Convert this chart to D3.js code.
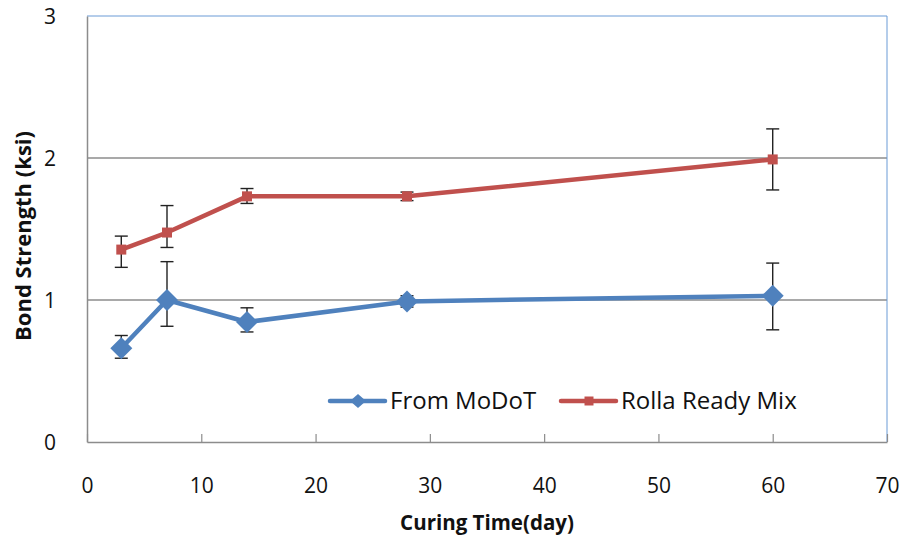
<!DOCTYPE html>
<html>
<head>
<meta charset="utf-8">
<script src="https://cdn.jsdelivr.net/npm/d3@7"></script>
<style>
body{margin:0;background:#fff;}
text{font-family:"Open Sans","Noto Sans",sans-serif;}
</style>
</head>
<body>
<svg></svg>
<script>
var width=915;
var height=541;
var margin={left:87,top:16,right:28,bottom:99};

// curing time (day)
var days=[3,7,14,28,60];
// From MoDoT
var modot=[0.66,1.0,0.845,0.99,1.03];
var modotHi=[0.75,1.27,0.945,1.03,1.26];
var modotLo=[0.59,0.815,0.775,0.95,0.79];
// Rolla Ready Mix
var rolla=[1.355,1.475,1.73,1.73,1.99];
var rollaHi=[1.45,1.665,1.785,1.76,2.205];
var rollaLo=[1.23,1.37,1.68,1.70,1.775];

var xTicks=[0,10,20,30,40,50,60,70];
var yTicks=[0,1,2,3];

var svg=d3.select("svg")
	.attr("width",width)
	.attr("height",height)

var scalex=d3.scaleLinear()
	.domain([0,70])
	.range([margin.left,width-margin.right])

var scaley=d3.scaleLinear()
	.domain([0,3])
	.range([height-margin.bottom,margin.top])

// gridlines
svg.append("g")
	.selectAll("line")
	.data(yTicks.filter(d=>d>0&&d<3))
	.enter()
	.append("line")
	.attr("x1",scalex(0))
	.attr("x2",scalex(70))
	.attr("y1",d=>scaley(d))
	.attr("y2",d=>scaley(d))
	.attr("stroke","#8c8c8c")
	.attr("stroke-width",1.3)

// top and right border
svg.append("path")
	.attr("d","M"+scalex(0)+","+scaley(3)+"H"+scalex(70)+"V"+scaley(0))
	.attr("fill","none")
	.attr("stroke","#6a9bd6")
	.attr("stroke-width",1)

var xaxis=d3.axisBottom(scalex)
	.tickValues(xTicks)
	.tickSizeInner(-8)
	.tickSizeOuter(0)

var yaxis=d3.axisLeft(scaley)
	.tickValues(yTicks)
	.tickFormat(d3.format("d"))
	.tickSize(0)
	.tickPadding(31)

var gx=svg.append("g")
	.attr("transform","translate(0,"+scaley(0)+")")
	.call(xaxis);
gx.select(".domain").attr("stroke","#8c8c8c").attr("stroke-width",1.5)
gx.selectAll(".tick line").attr("stroke","#8c8c8c").attr("stroke-width",1.2)
gx.selectAll(".tick text")
	.attr("y",44)
	.attr("dy","0.35em")
	.attr("font-size",21)
	.attr("fill","#111")
	.style("font-family","'Open Sans',sans-serif")

var gy=svg.append("g")
	.attr("transform","translate("+scalex(0)+",0)")
	.call(yaxis);
gy.select(".domain").attr("stroke","#8c8c8c").attr("stroke-width",1.5)
gy.selectAll(".tick text")
	.attr("font-size",21)
	.attr("fill","#111")
	.attr("dy","0.35em")
	.style("font-family","'Open Sans',sans-serif")

// axis titles
svg.append("text")
	.attr("x",(scalex(0)+scalex(70))/2)
	.attr("y",530)
	.style("text-anchor","middle")
	.attr("font-size",20.5)
	.attr("font-weight","bold")
	.attr("fill","#111")
	.text("Curing Time(day)")

svg.append("text")
	.attr("transform","translate(31,236) rotate(-90)")
	.style("text-anchor","middle")
	.attr("font-size",22)
	.attr("font-weight","bold")
	.attr("fill","#111")
	.text("Bond Strength (ksi)")

function drawseries(vals,hi,lo,color,marker)
{
	var g=svg.append("g");
	// error bars
	var eb=g.selectAll(".eb")
		.data(days)
		.enter()
		.append("g")
	eb.append("line")
		.attr("x1",d=>scalex(d)).attr("x2",d=>scalex(d))
		.attr("y1",(d,i)=>scaley(hi[i])).attr("y2",(d,i)=>scaley(lo[i]))
	eb.append("line")
		.attr("x1",d=>scalex(d)-6.5).attr("x2",d=>scalex(d)+6.5)
		.attr("y1",(d,i)=>scaley(hi[i])).attr("y2",(d,i)=>scaley(hi[i]))
	eb.append("line")
		.attr("x1",d=>scalex(d)-6.5).attr("x2",d=>scalex(d)+6.5)
		.attr("y1",(d,i)=>scaley(lo[i])).attr("y2",(d,i)=>scaley(lo[i]))
	eb.selectAll("line").attr("stroke","#222").attr("stroke-width",1.4)

	var line=d3.line()
		.x((d,i)=>scalex(days[i]))
		.y(d=>scaley(d))
	g.append("path")
		.datum(vals)
		.attr("d",line)
		.attr("fill","none")
		.attr("stroke",color)
		.attr("stroke-width",4.5)
		.attr("stroke-linejoin","round")

	g.selectAll(".mk")
		.data(vals)
		.enter()
		.append("path")
		.attr("transform",(d,i)=>"translate("+scalex(days[i])+","+scaley(d)+")")
		.attr("d",marker)
		.attr("fill",color)
}

var diamond="M0,-11L11,0L0,11L-11,0Z";
var square="M-5,-5H5V5H-5Z";

drawseries(rolla,rollaHi,rollaLo,"#c0504d",square);
drawseries(modot,modotHi,modotLo,"#4f81bd",diamond);

// legend
var legend=[
	{name:"From MoDoT",color:"#4f81bd",marker:"M0,-7L8,0L0,7L-8,0Z",x:330},
	{name:"Rolla Ready Mix",color:"#c0504d",marker:"M-4.5,-4.5H4.5V4.5H-4.5Z",x:561}
]
var lg=svg.selectAll(".lg")
	.data(legend)
	.enter()
	.append("g")
	.attr("transform",d=>"translate("+d.x+",401)")
lg.append("line")
	.attr("x1",0).attr("x2",55)
	.attr("stroke",d=>d.color)
	.attr("stroke-width",4.5)
	.attr("stroke-linecap","round")
lg.append("path")
	.attr("transform","translate(28,0)")
	.attr("d",d=>d.marker)
	.attr("fill",d=>d.color)
lg.append("text")
	.attr("x",60)
	.attr("dy","0.35em")
	.attr("font-size",24)
	.attr("fill","#111")
	.text(d=>d.name)
</script>
</body>
</html>
